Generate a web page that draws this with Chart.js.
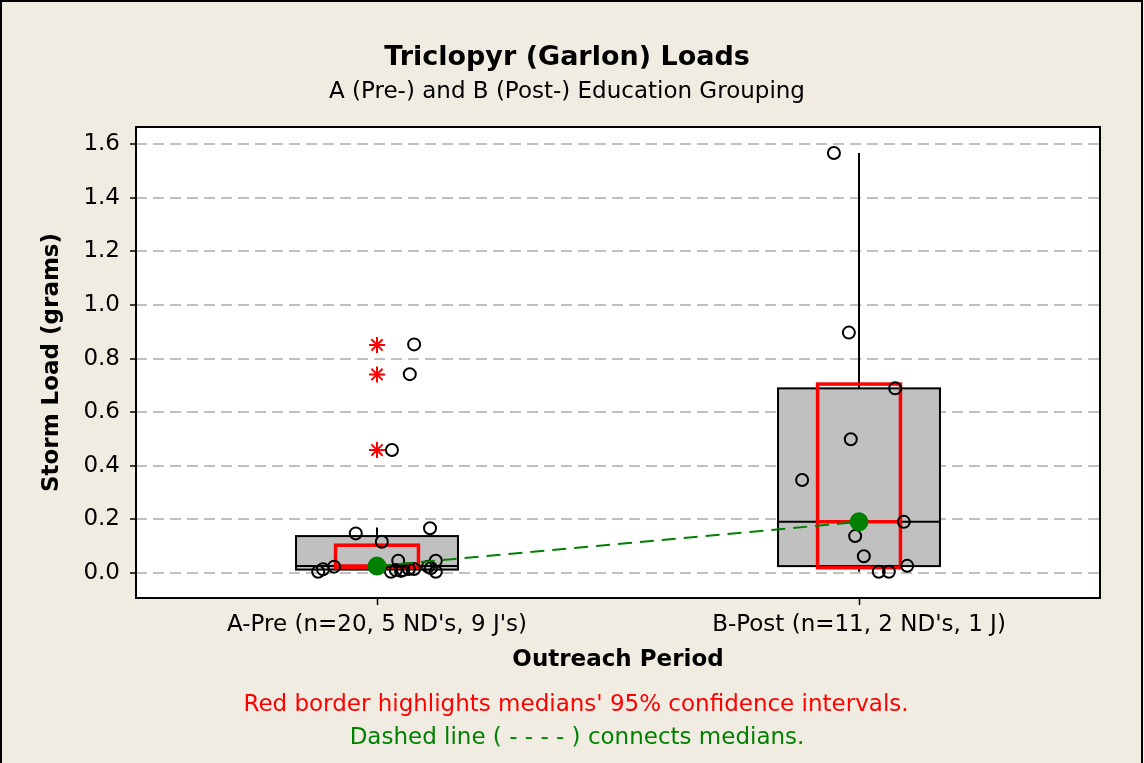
<!DOCTYPE html>
<html>
<head>
<meta charset="utf-8">
<title>Triclopyr (Garlon) Loads</title>
<script src="https://cdn.jsdelivr.net/npm/chart.js@4.4.0/dist/chart.umd.min.js"></script>
<style>
  html, body { margin: 0; padding: 0; background: #f0ece2; }
  #wrap { width: 1144px; height: 763px; }
</style>
</head>
<body>
<div id="wrap"><canvas id="loadChart" width="1144" height="763"></canvas></div>
<script>
// categories and tick labels
const groupLabels = ["A-Pre (n=20, 5 ND's, 9 J's)", "B-Post (n=11, 2 ND's, 1 J)"];
const groupPos = [1, 2];
const yTicks = [0, 0.2, 0.4, 0.6, 0.8, 1.0, 1.2, 1.4, 1.6];

// individual storm loads (grams) and their horizontal jitter
const loadsA = [0.853, 0.742, 0.459, 0.167, 0.148, 0.117, 0.046, 0.046, 0.024, 0.024,
                0.014, 0.005, 0.005, 0.011, 0.011, 0.015, 0.015, 0.019, 0.005, 0.008];
const jitterA = [0.077, 0.068, 0.031, 0.110, -0.044, 0.010, 0.044, 0.122, -0.089, 0.106,
                 -0.112, -0.122, 0.029, 0.039, 0.054, 0.066, 0.077, 0.112, 0.122, 0.050];
const loadsB = [1.567, 0.897, 0.689, 0.499, 0.347, 0.191, 0.138, 0.063, 0.027, 0.005, 0.005];
const jitterB = [-0.052, -0.021, 0.075, -0.017, -0.118, 0.093, -0.008, 0.010, 0.100, 0.041, 0.062];
const outliersA = [0.851, 0.741, 0.459];

// box plot summary per group
const q1 = [0.013, 0.026];
const medians = [0.026, 0.191];
const q3 = [0.138, 0.689];
const whiskerLow = [0.005, 0.005];
const whiskerHigh = [0.170, 1.567];
const ciLow = [0.021, 0.020];
const ciHigh = [0.104, 0.705];

const boxHalf = 0.168;
const ciHalf = 0.086;
const fontFamily = "'DejaVu Sans', 'Liberation Sans', sans-serif";

Chart.defaults.font.family = fontFamily;
Chart.defaults.color = '#000';

function strokeLine(ctx, x1, y1, x2, y2) {
  ctx.beginPath();
  ctx.moveTo(x1, y1);
  ctx.lineTo(x2, y2);
  ctx.stroke();
}

const boxPlugin = {
  id: 'boxPlot',
  beforeDraw(chart) {
    let ctx = chart.ctx;
    ctx.save();
    ctx.fillStyle = '#f0ece2';
    ctx.fillRect(0, 0, chart.width, chart.height);
    ctx.strokeStyle = '#000';
    ctx.lineWidth = 2;
    ctx.strokeRect(1, 1, chart.width - 3, chart.height + 20);
    let a = chart.chartArea;
    ctx.fillStyle = '#fff';
    ctx.fillRect(a.left, a.top, a.right - a.left, a.bottom - a.top);
    ctx.restore();
  },
  beforeDatasetsDraw(chart) {
    let ctx = chart.ctx, xs = chart.scales.x, ys = chart.scales.y;
    ctx.save();
    groupPos.forEach(function(g, i) {
      let xc = xs.getPixelForValue(g);
      let xl = xs.getPixelForValue(g - boxHalf);
      let xr = xs.getPixelForValue(g + boxHalf);
      let top = ys.getPixelForValue(q3[i]);
      let bot = ys.getPixelForValue(q1[i]);
      let med = ys.getPixelForValue(medians[i]);

      ctx.strokeStyle = '#000';
      ctx.lineWidth = 2;
      strokeLine(ctx, xc, ys.getPixelForValue(whiskerHigh[i]), xc, top);
      strokeLine(ctx, xc, bot, xc, ys.getPixelForValue(whiskerLow[i]));

      ctx.fillStyle = '#c0c0c0';
      ctx.fillRect(xl, top, xr - xl, bot - top);
      ctx.strokeRect(xl, top, xr - xl, bot - top);
      strokeLine(ctx, xl, med, xr, med);

      // median confidence interval
      let cl = xs.getPixelForValue(g - ciHalf);
      let cr = xs.getPixelForValue(g + ciHalf);
      let ct = ys.getPixelForValue(ciHigh[i]);
      let cb = ys.getPixelForValue(ciLow[i]);
      ctx.strokeStyle = '#ff0000';
      ctx.lineWidth = 3.5;
      ctx.strokeRect(cl, ct, cr - cl, cb - ct);
      strokeLine(ctx, cl, med, cr, med);
    });
    ctx.restore();
  },
  afterDraw(chart) {
    let ctx = chart.ctx, a = chart.chartArea;
    ctx.save();
    ctx.strokeStyle = '#000';
    ctx.lineWidth = 2;
    ctx.strokeRect(a.left, a.top, a.right - a.left, a.bottom - a.top);

    ctx.font = '23px ' + fontFamily;
    ctx.textAlign = 'center';
    ctx.textBaseline = 'middle';
    ctx.fillStyle = '#ff0000';
    ctx.fillText("Red border highlights medians' 95% confidence intervals.", 576, 705);
    ctx.fillStyle = '#008000';
    ctx.fillText('Dashed line ( - - - - ) connects medians.', 577, 738);
    ctx.restore();
  }
};

let loadChart = new Chart(document.getElementById('loadChart'), {
  type: 'scatter',
  data: {
    datasets: [{
      type: 'line',
      label: 'Medians',
      data: groupPos.map((g, i) => ({ x: g, y: medians[i] })),
      borderColor: '#008000',
      borderWidth: 2,
      borderDash: [14, 8],
      pointRadius: 8.5,
      pointBackgroundColor: '#008000',
      pointBorderColor: '#008000',
      fill: false,
      order: 0
    }, {
      label: 'A-Pre',
      data: loadsA.map((v, i) => ({ x: groupPos[0] + jitterA[i], y: v })),
      pointStyle: 'circle',
      pointRadius: 6,
      borderWidth: 2,
      borderColor: '#000',
      backgroundColor: 'rgba(0,0,0,0)',
      order: 1
    }, {
      label: 'B-Post',
      data: loadsB.map((v, i) => ({ x: groupPos[1] + jitterB[i], y: v })),
      pointStyle: 'circle',
      pointRadius: 6,
      borderWidth: 2,
      borderColor: '#000',
      backgroundColor: 'rgba(0,0,0,0)',
      order: 1
    }, {
      label: 'Outliers',
      data: outliersA.map(v => ({ x: groupPos[0], y: v })),
      pointStyle: 'star',
      pointRadius: 8,
      borderWidth: 2,
      borderColor: '#ff0000',
      backgroundColor: '#ff0000',
      order: 2
    }]
  },
  options: {
    responsive: false,
    animation: false,
    devicePixelRatio: 1,
    layout: { padding: { left: 34, right: 44, top: 0, bottom: 88 } },
    plugins: {
      legend: { display: false },
      tooltip: { enabled: false },
      title: {
        display: true,
        text: 'Triclopyr (Garlon) Loads',
        color: '#000',
        font: { size: 27, weight: 'bold' },
        padding: { top: 42, bottom: 0 }
      },
      subtitle: {
        display: true,
        text: 'A (Pre-) and B (Post-) Education Grouping',
        color: '#000',
        font: { size: 23 },
        padding: { top: 4, bottom: 21 }
      }
    },
    scales: {
      x: {
        type: 'linear',
        min: 0.5,
        max: 2.5,
        afterFit: function(scale) { scale.height = 77; },
        afterBuildTicks: function(scale) { scale.ticks = groupPos.map(v => ({ value: v })); },
        ticks: {
          font: { size: 23 },
          padding: 6,
          maxRotation: 0,
          callback: function(value) {
            let i = groupPos.indexOf(value);
            return i >= 0 ? groupLabels[i] : '';
          }
        },
        grid: { drawOnChartArea: false, drawTicks: true, tickLength: 7, tickColor: '#000', tickWidth: 1.5 },
        border: { display: false },
        title: {
          display: true,
          text: 'Outreach Period',
          font: { size: 23, weight: 'bold' },
          padding: { top: 4, bottom: 1 }
        }
      },
      y: {
        min: -0.093,
        max: 1.664,
        afterFit: function(scale) { scale.width = 102; },
        afterBuildTicks: function(scale) { scale.ticks = yTicks.map(v => ({ value: v })); },
        ticks: {
          font: { size: 23 },
          padding: 10,
          callback: function(value) { return value.toFixed(1); }
        },
        grid: {
          color: '#c0c0c0',
          lineWidth: 2,
          tickLength: 6,
          tickColor: '#000',
          tickWidth: 1.5
        },
        border: { display: false, dash: [11, 6] },
        title: {
          display: true,
          text: 'Storm Load (grams)',
          font: { size: 23, weight: 'bold' },
          padding: { top: 4, bottom: 4 }
        }
      }
    }
  },
  plugins: [boxPlugin]
});
</script>
</body>
</html>
